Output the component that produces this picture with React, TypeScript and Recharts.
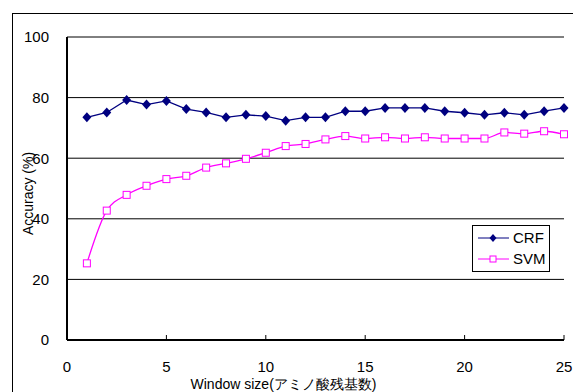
import { LineChart, Line, XAxis, YAxis, CartesianGrid } from "recharts";

const windowSizes = [1, 2, 3, 4, 5, 6, 7, 8, 9, 10, 11, 12, 13, 14, 15, 16, 17, 18, 19, 20, 21, 22, 23, 24, 25];
const crfValues = [73.5, 75.1, 79.2, 77.7, 78.9, 76.2, 75.1, 73.5, 74.3, 73.9, 72.4, 73.5, 73.5, 75.5, 75.5, 76.6, 76.6, 76.6, 75.5, 75.0, 74.3, 75.0, 74.3, 75.5, 76.6];
const svmValues = [25.3, 42.7, 47.9, 50.9, 53.1, 54.2, 56.9, 58.3, 59.8, 61.8, 64.0, 64.7, 66.2, 67.3, 66.5, 66.9, 66.5, 66.9, 66.5, 66.5, 66.5, 68.5, 68.1, 68.9, 67.9];
const xTicks = [0, 5, 10, 15, 20, 25];
const yTicks = [0, 20, 40, 60, 80, 100];
const seriesNames = ["CRF", "SVM"];

const data = windowSizes.map((w, i) => ({ w, crf: crfValues[i], svm: svmValues[i] }));

const FONT = "'Liberation Sans', Arial, sans-serif";

const Diamond = (props: any) => {
  const { cx, cy } = props;
  if (cx == null || cy == null) return null;
  return <path d={`M${cx},${cy - 5}L${cx + 4.5},${cy}L${cx},${cy + 5}L${cx - 4.5},${cy}Z`} fill="#000080" />;
};

const Square = (props: any) => {
  const { cx, cy } = props;
  if (cx == null || cy == null) return null;
  return <rect x={cx - 3.5} y={cy - 3.5} width={7} height={7} fill="#fff" stroke="#ff00ff" strokeWidth={1} />;
};

const LegendBox = () => (
  <div style={{ position: "absolute", left: 472, top: 225, border: "1px solid #000", width: 78, height: 47, boxSizing: "border-box", background: "#fff", fontFamily: FONT, fontSize: 15, color: "#000", paddingTop: 1 }}>
    {seriesNames.map((name, i) => {
      const color = i === 0 ? "#000080" : "#ff00ff";
      return (
        <div key={name} style={{ display: "flex", alignItems: "center", height: 21 }}>
          <svg width={36} height={14} style={{ marginLeft: 4 }}>
            <line x1={1} y1={7} x2={32} y2={7} stroke={color} strokeWidth={1} />
            {i === 0 ? (
              <path d="M16,3L19.5,7L16,11L12.5,7Z" fill={color} />
            ) : (
              <rect x={13} y={4} width={6} height={6} fill="#fff" stroke={color} />
            )}
          </svg>
          <span>{name}</span>
        </div>
      );
    })}
  </div>
);

export default function App() {
  return (
    <div style={{ position: "absolute", left: 0, top: 0, width: 573, height: 392, overflow: "hidden", background: "#fff" }}>
      <div style={{ position: "absolute", left: 12, top: 13, width: 700, height: 500, borderLeft: "1px solid #000", borderTop: "1px solid #000" }} />
      <LineChart width={573} height={392} data={data} margin={{ top: 37, right: 9, bottom: 0, left: 12 }} style={{ position: "absolute", left: 0, top: 0 }}>
        <CartesianGrid vertical={false} stroke="#000" strokeWidth={1} yAxisId="left" />
        <XAxis
          dataKey="w"
          type="number"
          domain={[0, 25]}
          ticks={xTicks}
          height={52}
          axisLine={{ stroke: "#000", strokeWidth: 2 }}
          tickLine={{ stroke: "#000" }}
          tickSize={-5}
          tickMargin={26}
          tick={{ fill: "#000", fontSize: 15, fontFamily: FONT }}
          label={{ value: "Window size(アミノ酸残基数)", position: "insideBottom", offset: 3, dx: -32, fill: "#000", fontSize: 14, fontFamily: FONT }}
        />
        <XAxis xAxisId="top" orientation="top" dataKey="w" type="number" domain={[0, 25]} tick={false} tickLine={false} axisLine={{ stroke: "#000", strokeWidth: 1.5 }} height={0} />
        <YAxis
          yAxisId="left"
          domain={[0, 100]}
          ticks={yTicks}
          width={55}
          axisLine={{ stroke: "#000", strokeWidth: 2 }}
          tickLine={false}
          tickMargin={12}
          tick={{ fill: "#000", fontSize: 15, fontFamily: FONT }}
          label={{ value: "Accuracy (%)", angle: -90, position: "insideLeft", offset: 16, dy: 5, fill: "#000", fontSize: 14, fontFamily: FONT, style: { textAnchor: "middle" } }}
        />
        <YAxis yAxisId="right" orientation="right" domain={[0, 100]} tick={false} tickLine={false} axisLine={{ stroke: "#000", strokeWidth: 2 }} width={0} />
        <Line yAxisId="left" type="linear" dataKey="crf" name="CRF" stroke="#000080" strokeWidth={1.3} dot={<Diamond />} isAnimationActive={false} />
        <Line yAxisId="left" type="monotone" dataKey="svm" name="SVM" stroke="#ff00ff" strokeWidth={1.3} dot={<Square />} isAnimationActive={false} />
      </LineChart>
      <LegendBox />
    </div>
  );
}
